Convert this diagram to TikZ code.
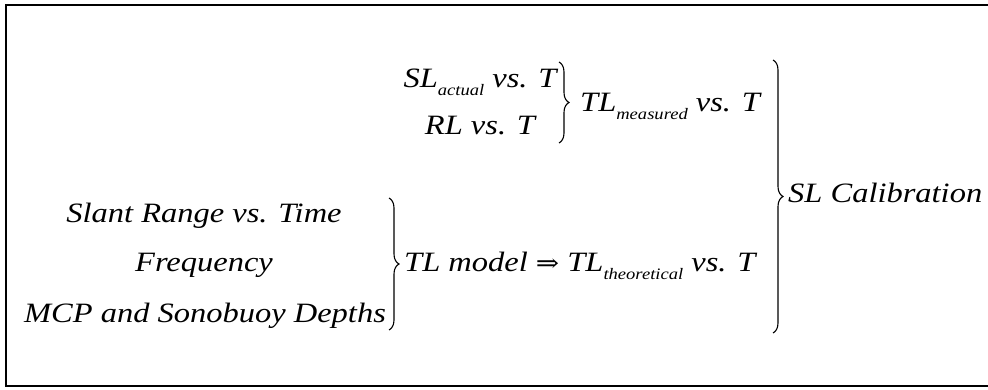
\documentclass[tikz,border=0pt]{standalone}
\usepackage{fontspec}
\usepackage{graphicx}
\setmainfont{Liberation Serif}
\newfontfamily\arrowfont{DejaVu Serif}
\usetikzlibrary{decorations.pathreplacing}
\newcommand\lowsub[1]{\raisebox{-8pt}{\fontsize{16}{18}\selectfont #1}}
\newcommand\wide[1]{\scalebox{1.16}[1]{#1}}
\tikzset{
  txt/.style={inner sep=0pt, font=\fontsize{28}{32}\selectfont\itshape},
  bracepath/.style={line width=1.1pt, decorate, decoration={brace, amplitude=10pt, aspect=0.5}},
  frame/.style={line width=2.6pt}
}
\begin{document}
\begin{tikzpicture}[x=1pt,y=-1pt]
\useasboundingbox (0,0) rectangle (988,390);
\draw[frame] (988,5) -- (6,5) -- (6,386) -- (988,386);
% top group
\node[txt, anchor=base] (sla) at (480,88) {\wide{SL\lowsub{actual} vs. T}};
\node[txt, anchor=base] (rl) at (480,135) {\wide{RL vs. T}};
\coordinate (b1t) at (559,62);
\coordinate (b1b) at (559,143);
\draw[bracepath] (b1t) -- (b1b);
\node[txt, anchor=base west] (tlm) at (580,112) {\wide{TL\lowsub{measured} vs. T}};
% left group
\node[txt, anchor=base] (slant) at (204,223) {\wide{Slant Range vs. Time}};
\node[txt, anchor=base] (freq) at (204,272) {\wide{Frequency}};
\node[txt, anchor=base] (mcp) at (205,322) {\wide{MCP and Sonobuoy Depths}};
\coordinate (b2t) at (389,198);
\coordinate (b2b) at (389,330);
\draw[bracepath] (b2t) -- (b2b);
\node[txt, anchor=base west] (tlt) at (404,272) {\wide{TL model {\arrowfont\upshape\fontsize{24}{30}\selectfont ⇒} TL\lowsub{theoretical} vs. T}};
% big brace
\coordinate (b3t) at (773,60);
\coordinate (b3b) at (773,333);
\draw[bracepath] (b3t) -- (b3b);
\node[txt, anchor=base west] (slc) at (788,203) {\wide{SL Calibration}};
\end{tikzpicture}
\end{document}
